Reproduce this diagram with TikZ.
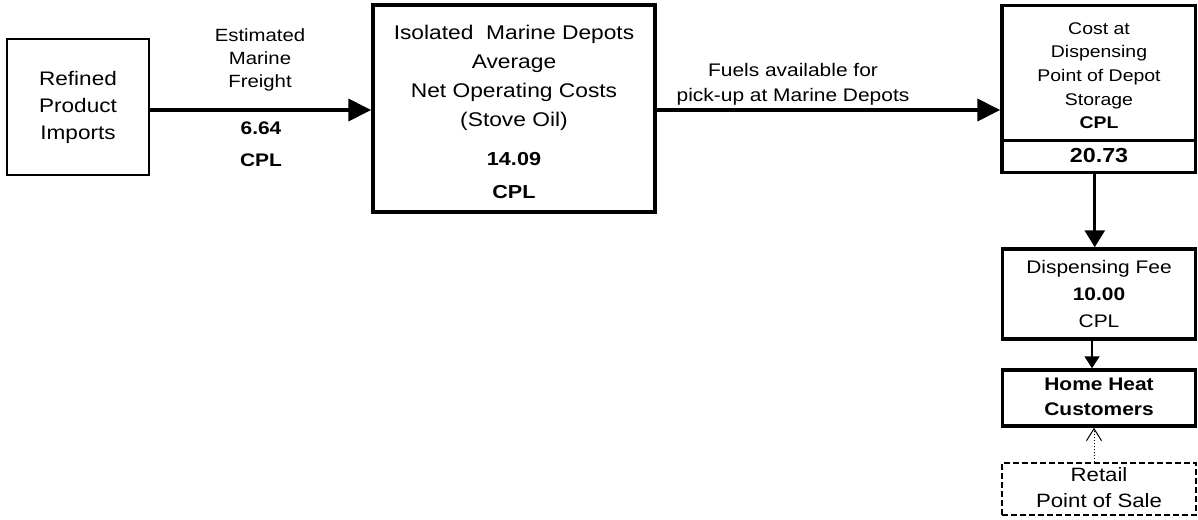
\documentclass[tikz,border=0pt]{standalone}
\usepackage{fontspec}
\setmainfont{Liberation Sans}[FakeStretch=1.15]
\usetikzlibrary{arrows.meta}
\tikzset{
  box/.style={draw, line width=#1, inner sep=0pt, minimum width=0pt, minimum height=0pt},
  txt/.style={anchor=north, inner sep=0pt, align=center},
  bigarrow/.style={line width=4pt, -{Triangle[length=23pt,width=22pt]}},
  medarrow/.style={line width=3pt, -{Triangle[length=17pt,width=20pt]}},
  smallarrow/.style={line width=1.8pt, -{Triangle[length=12pt,width=15pt]}},
  dotarrow/.style={line width=1pt, dotted, -{Straight Barb[length=12pt,width=15pt,line width=1pt]}},
}
\begin{document}
\begin{tikzpicture}[x=1pt,y=-1pt]
\path[fill=white] (0,0) rectangle (1198,519);
% boxes
\node[box=1.5pt, minimum width=142pt, minimum height=136pt] (imports) at (78,107) {};
\node[box=3.5pt, minimum width=282pt, minimum height=207pt] (depot) at (514,108.5) {};
\node[box=3.5pt, minimum width=193.5pt, minimum height=167pt] (cost) at (1098.75,89) {};
\coordinate (divl) at (1002,140.5);
\coordinate (divr) at (1195.5,140.5);
\draw[line width=3.5pt] (divl) -- (divr);
\node[box=3.5pt, minimum width=193pt, minimum height=90pt] (disp) at (1099,294) {};
\node[box=3.5pt, minimum width=193pt, minimum height=56pt] (home) at (1099,398) {};
\node[box=1.3pt, dash pattern=on 6pt off 3pt, minimum width=194pt, minimum height=52pt] (retail) at (1099,489) {};
% texts
\node[txt, font=\fontsize{19.6}{27}\selectfont] (timports) at (78,71.5) {Refined\\Product\\Imports};
\node[txt, font=\fontsize{17.7}{23}\selectfont] (tfreight) at (260,28) {Estimated\\Marine\\Freight};
\node[txt, font=\fontsize{18.2}{32}\selectfont\bfseries] (vfreight) at (261,122) {6.64\\CPL};
\node[txt, font=\fontsize{19.8}{29}\selectfont] (tdepot) at (514,25) {Isolated\ \ Marine Depots\\Average\\Net Operating Costs\\(Stove Oil)};
\node[txt, font=\fontsize{18.8}{33}\selectfont\bfseries] (vdepot) at (514,152) {14.09\\CPL};
\node[txt, font=\fontsize{18.2}{25}\selectfont] (tfuels) at (793,63) {Fuels available for\\pick-up at Marine Depots};
\node[txt, font=\fontsize{16.9}{23.7}\selectfont] (tcost) at (1099,22) {Cost at\\Dispensing\\Point of Depot\\Storage\\\textbf{CPL}};
\node[txt, font=\fontsize{20.3}{24}\selectfont\bfseries] (vcost) at (1099,148) {20.73};
\node[txt, font=\fontsize{18.2}{27}\selectfont] (tdisp) at (1099,260) {Dispensing Fee\\\textbf{10.00}\\CPL};
\node[txt, font=\fontsize{18.2}{25}\selectfont\bfseries] (thome) at (1099,378) {Home Heat\\Customers};
\node[txt, font=\fontsize{19.3}{26}\selectfont] (tretail) at (1099,467) {Retail\\Point of Sale};
% connectors
\draw[bigarrow] ([yshift=-3pt]imports.east) -- ([yshift=-3pt]imports.east -| depot.west);
\draw[bigarrow] ([yshift=-1.5pt]depot.east) -- ([yshift=-1.5pt]depot.east -| cost.west);
\draw[medarrow] ([xshift=-4pt]cost.south) -- ([xshift=-4pt]cost.south |- disp.north);
\draw[smallarrow] ([xshift=-7pt]disp.south) -- ([xshift=-7pt]disp.south |- home.north);
\draw[dotarrow] ([xshift=-5pt]retail.north) -- ([xshift=-5pt]retail.north |- home.south);
\end{tikzpicture}
\end{document}
